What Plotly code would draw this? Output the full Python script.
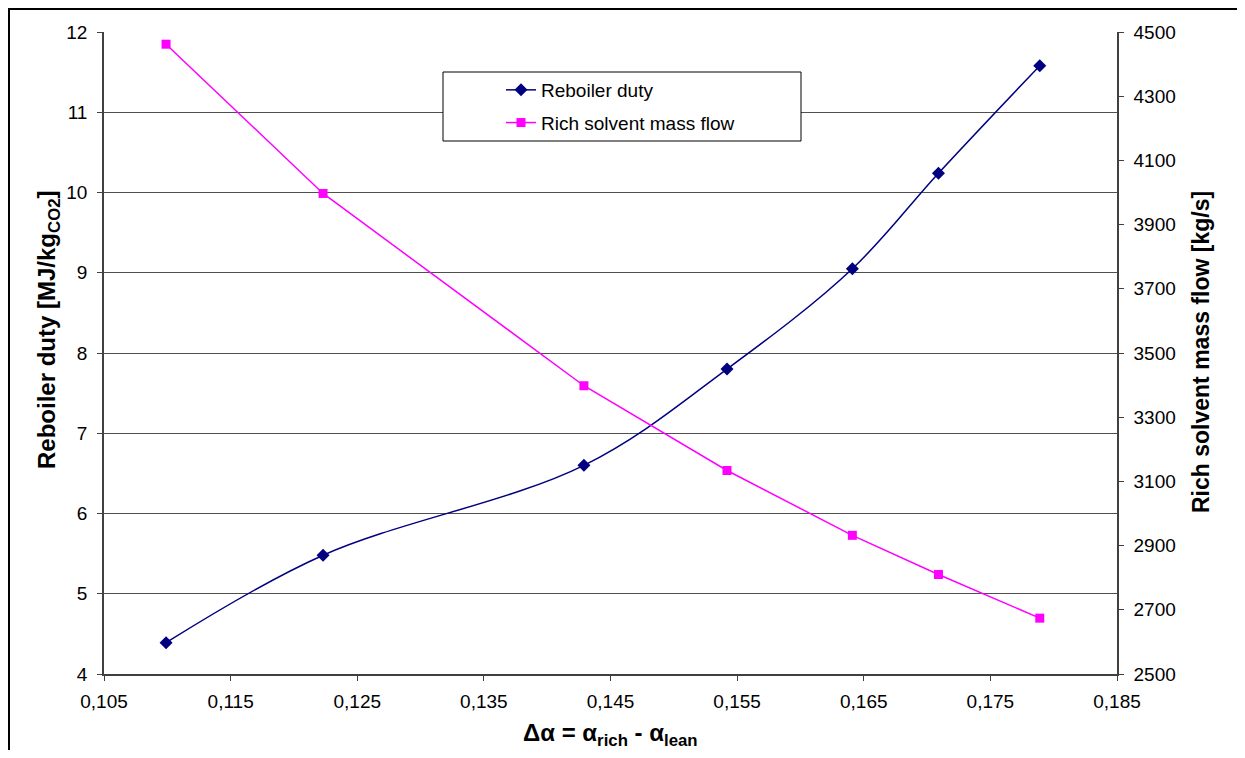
import plotly.graph_objects as go

# Data
delta_alpha = [0.1099, 0.1223, 0.1429, 0.1542, 0.1641, 0.1709, 0.1789]
reboiler_duty = [4.39, 5.48, 6.60, 7.80, 9.05, 10.24, 11.58]
rich_solvent_flow = [4462, 3997, 3398, 3134, 2932, 2810, 2674]

series_names = ["Reboiler duty", "Rich solvent mass flow"]
left_title = "<b>Reboiler duty [MJ/kg<sub>CO2</sub>]</b>"
right_title = "<b>Rich solvent mass flow [kg/s]</b>"
x_title = "<b>Δα = α<sub>rich</sub> - α<sub>lean</sub></b>"

FONT = "Liberation Sans, Arial, sans-serif"
OFF = 8  # page body margin
W, H = 1245 - 2 * OFF, 758 - 2 * OFF
L, T = 104 - OFF, 32 - OFF
R = W - (1117 - OFF)
B = H - (674 - OFF)
PW, PH = W - L - R, H - T - B


def px_x(p):
    """reference screen px -> paper x"""
    return (p - OFF - L) / PW


def px_y(p):
    """reference screen px -> paper y"""
    return 1 - (p - OFF - T) / PH


fig = go.Figure()
fig.add_trace(go.Scatter(
    x=delta_alpha, y=reboiler_duty, name=series_names[0], legendgroup="a",
    mode="lines+markers",
    line=dict(color="#000080", width=1.5, shape="spline", smoothing=1),
    marker=dict(symbol="diamond", size=10, color="#000080"),
    yaxis="y",
))
fig.add_trace(go.Scatter(
    x=delta_alpha, y=rich_solvent_flow, name=series_names[1], legendgroup="b",
    mode="lines+markers",
    line=dict(color="#FF00FF", width=1.5),
    marker=dict(symbol="square", size=9, color="#FF00FF"),
    yaxis="y2",
))

axis_common = dict(
    showline=True, linecolor="#404040", linewidth=1.5,
    ticks="outside", ticklen=5, tickcolor="#404040",
    tickfont=dict(family=FONT, size=19, color="black"),
    zeroline=False,
)

fig.update_layout(
    width=W, height=H,
    margin=dict(l=L, r=R, t=T, b=B),
    paper_bgcolor="white", plot_bgcolor="white",
    separators=",.",
    font=dict(family=FONT, color="black"),
    xaxis=dict(range=[0.105, 0.185], tick0=0.105, dtick=0.01, tickformat=".3f",
               showgrid=False, ticklabelstandoff=4, **axis_common),
    yaxis=dict(range=[4, 12], tick0=4, dtick=1, showgrid=True, gridcolor="#505050",
               gridwidth=1, ticklabelstandoff=6, **axis_common),
    yaxis2=dict(range=[2500, 4500], tick0=2500, dtick=200, overlaying="y", side="right",
                showgrid=False, separatethousands=False, ticklabelstandoff=6,
                **axis_common),
    legend=dict(x=px_x(501), y=px_y(71), xanchor="left", yanchor="top",
                bgcolor="rgba(0,0,0,0)", borderwidth=0,
                font=dict(family=FONT, size=19, color="black"),
                tracegroupgap=5, traceorder="grouped"),
    shapes=[
        dict(type="rect", xref="paper", yref="paper",
             x0=px_x(443), x1=px_x(801), y0=px_y(141), y1=px_y(72),
             fillcolor="white", line=dict(color="black", width=1), layer="above"),
        dict(type="rect", xref="paper", yref="paper",
             x0=px_x(9), x1=px_x(1400), y0=px_y(900), y1=px_y(9),
             fillcolor="rgba(0,0,0,0)", line=dict(color="black", width=2)),
    ],
    annotations=[
        dict(text=left_title, xref="paper", yref="paper", x=px_x(49), y=px_y(330),
             textangle=-90, showarrow=False, xanchor="center", yanchor="middle",
             font=dict(family=FONT, size=24, color="black")),
        dict(text=right_title, xref="paper", yref="paper", x=px_x(1201), y=px_y(352),
             textangle=-90, showarrow=False, xanchor="center", yanchor="middle",
             font=dict(family=FONT, size=23, color="black")),
        dict(text=x_title, xref="paper", yref="paper", x=px_x(610), y=px_y(734),
             showarrow=False, xanchor="center", yanchor="middle",
             font=dict(family=FONT, size=24, color="black")),
    ],
)

fig.write_html("out.html")
